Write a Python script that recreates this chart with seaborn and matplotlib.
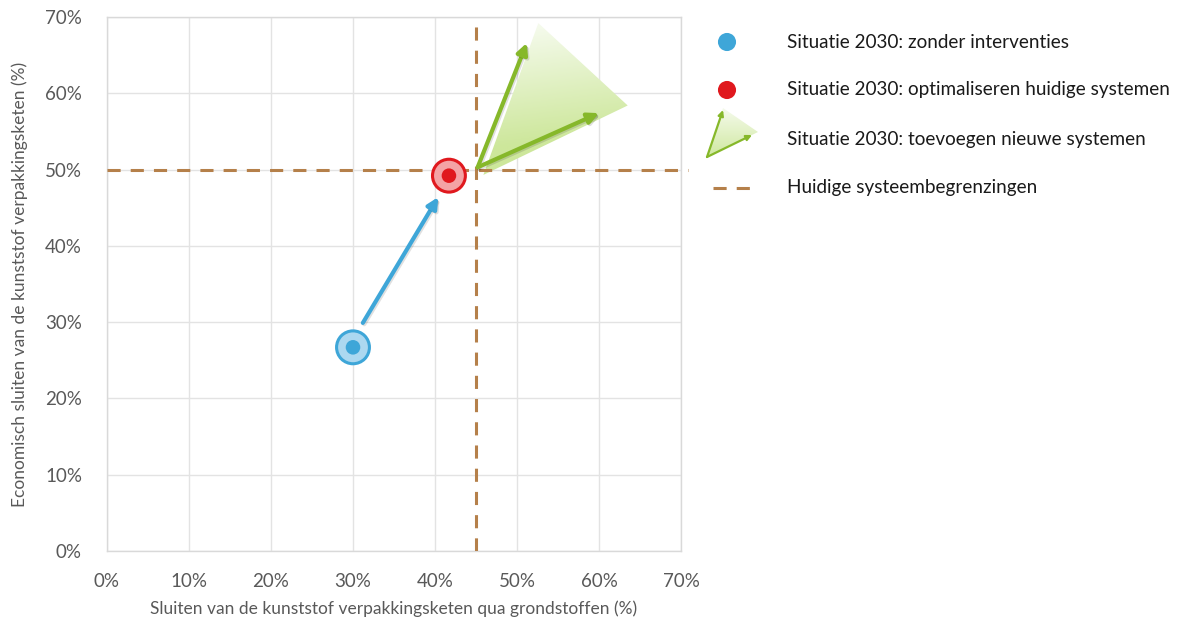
import numpy as np
import pandas as pd
import seaborn as sns
import matplotlib
matplotlib.use("Agg")
from matplotlib import pyplot as plt
from matplotlib.patches import Polygon
from matplotlib.colors import LinearSegmentedColormap
import matplotlib.patheffects as pe
from matplotlib.ticker import PercentFormatter

# --- data (percent) ---
scenarios = ["Situatie 2030: zonder interventies",
             "Situatie 2030: optimaliseren huidige systemen"]
sc_x = [30.0, 41.7]
sc_y = [26.7, 49.2]
sc_colors = ["#3ea6d8", "#e0191e"]
sc_fill = ["#acd8f0", "#f4a3a5"]

# arrow blue: from zonder interventies towards optimaliseren
blue_arrow_start = [31.2, 29.9]
blue_arrow_end = [40.4, 46.4]

# new systems: origin, two arrow tips and the shaded cone
new_origin = [45.2, 50.3]
new_tips_x = [51.2, 60.0]
new_tips_y = [66.6, 57.4]
cone_x = [45.9, 52.6, 63.5]
cone_y = [49.3, 69.2, 58.4]

# current system boundaries
boundary_x = 45.0
boundary_y = 50.0

ticks = [0, 10, 20, 30, 40, 50, 60, 70]
legend_labels = ["Situatie 2030: zonder interventies",
                 "Situatie 2030: optimaliseren huidige systemen",
                 "Situatie 2030: toevoegen nieuwe systemen",
                 "Huidige systeembegrenzingen"]

sns.set_style("whitegrid")
plt.rcParams['font.family'] = ['Lato', 'DejaVu Sans']

fig = plt.figure(figsize=(11.78, 6.17), dpi=100)
ax = fig.add_axes([107 / 1178, 1 - 551 / 617, (681 - 107) / 1178, (551 - 17) / 617])

green = "#86b82a"
brown = "#b5804a"
dash = (0, (4.3, 3.3))
shadow = [pe.SimpleLineShadow(offset=(1, -1), alpha=0.12), pe.Normal()]

# shaded cone with gradient
cone = Polygon(np.column_stack([cone_x, cone_y]), closed=True, facecolor="none",
               edgecolor="none")
ax.add_patch(cone)
gx, gy = np.meshgrid(np.linspace(44, 66, 200), np.linspace(48, 71, 200))
top = np.array([cone_x[1], cone_y[1]])
mid = np.array([(cone_x[0] + cone_x[2]) / 2, (cone_y[0] + cone_y[2]) / 2])
d = mid - top
grad = ((gx - top[0]) * d[0] + (gy - top[1]) * d[1]) / (d @ d)
cmap = LinearSegmentedColormap.from_list("cone", ["#f6fbee", "#cde79b"])
im = ax.imshow(np.clip(grad, 0, 1), extent=[44, 66, 48, 71], origin="lower",
               cmap=cmap, aspect="auto", zorder=2)
im.set_clip_path(cone)

# boundaries
ax.axvline(boundary_x, color=brown, lw=2.2, ls=dash, zorder=3)
ax.axhline(boundary_y, color=brown, lw=2.2, ls=dash, zorder=3, clip_on=False,
           xmax=1.012)

# arrows
ax.annotate("", xy=blue_arrow_end, xytext=blue_arrow_start, zorder=4,
            arrowprops=dict(arrowstyle="-|>", color=sc_colors[0], lw=3,
                            mutation_scale=16, shrinkA=0, shrinkB=0,
                            path_effects=shadow))
for tx, ty in zip(new_tips_x, new_tips_y):
    ax.annotate("", xy=(tx, ty), xytext=new_origin, zorder=4,
                arrowprops=dict(arrowstyle="-|>", color=green, lw=3,
                                mutation_scale=16, shrinkA=0, shrinkB=0,
                                path_effects=shadow))

# scenario points
pts = pd.DataFrame({"x": sc_x, "y": sc_y, "scenario": scenarios})
sns.scatterplot(data=pts, x="x", y="y", hue="scenario", palette=sc_fill, s=560,
                edgecolor=sc_colors, linewidth=2.2, legend=False, ax=ax, zorder=5)
sns.scatterplot(data=pts, x="x", y="y", hue="scenario", palette=sc_colors, s=110,
                linewidth=0, legend=False, ax=ax, zorder=6)

ax.set_xlim(0, 70)
ax.set_ylim(0, 70)
ax.set_xticks(ticks)
ax.set_yticks(ticks)
ax.xaxis.set_major_formatter(PercentFormatter(decimals=0))
ax.yaxis.set_major_formatter(PercentFormatter(decimals=0))
ax.grid(color="#e3e3e3", lw=1)
for s in ax.spines.values():
    s.set_color("#d9d9d9")
    s.set_linewidth(1)
ax.tick_params(labelsize=13.5, colors="#595959", length=0)
ax.tick_params(axis="x", pad=16)
ax.tick_params(axis="y", pad=18)
ax.set_xlabel("Sluiten van de kunststof verpakkingsketen qua grondstoffen (%)",
              fontsize=12.5, color="#595959", labelpad=7)
ax.set_ylabel("Economisch sluiten van de kunststof verpakkingsketen (%)",
              fontsize=12.5, color="#595959", labelpad=12)

# legend drawn in pixel coordinates
lax = fig.add_axes([690 / 1178, 0, 488 / 1178, 1])
lax.set_xlim(690, 1178)
lax.set_ylim(617, 0)
lax.axis("off")
rows = [42, 90, 139, 188]
lax.scatter([727, 727], rows[:2], s=170, c=sc_colors, linewidths=0)
icon = Polygon([[707, 157], [723, 108], [758, 132]], closed=True, facecolor="none",
               edgecolor="none")
lax.add_patch(icon)
lg = lax.imshow(np.linspace(0, 1, 50)[:, None] * np.ones((1, 50)),
                extent=[705, 760, 106, 160], cmap=cmap, aspect="auto", origin="lower")
lg.set_clip_path(icon)
lax.set_xlim(690, 1178)
lax.set_ylim(617, 0)
for tip in [(723, 110), (752, 135)]:
    lax.annotate("", xy=tip, xytext=(707, 157),
                 arrowprops=dict(arrowstyle="-|>", color=green, lw=1.6,
                                 mutation_scale=8, shrinkA=0, shrinkB=0))
lax.plot([713, 755], [188, 188], color=brown, lw=2.2, ls=dash)
for r, lab in zip(rows, legend_labels):
    lax.text(787, r, lab, fontsize=13.6, color="#1a1a1a", va="center", ha="left")

fig.savefig("out.png", dpi=100)
